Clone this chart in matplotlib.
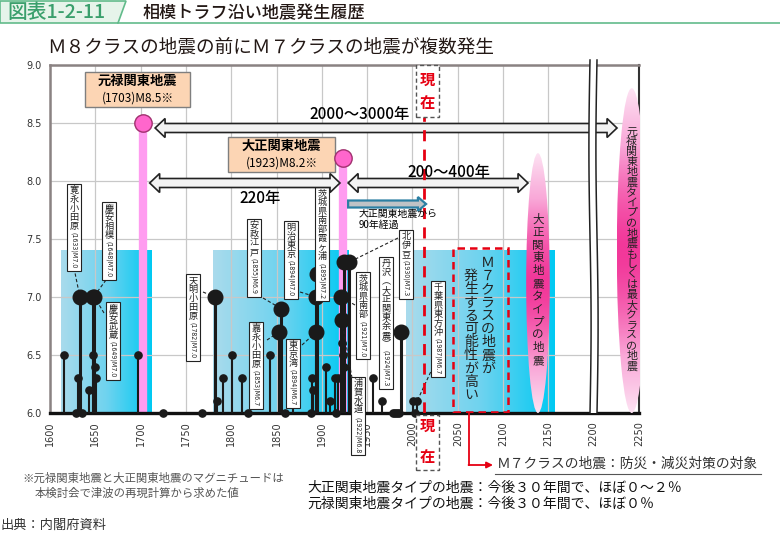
import numpy as np
import matplotlib
matplotlib.use("Agg")
import matplotlib.pyplot as plt
from matplotlib.patches import Rectangle, Ellipse, Polygon
from matplotlib.colors import LinearSegmentedColormap
from matplotlib.transforms import Bbox

plt.rcParams['font.family'] = ['Noto Sans CJK JP', 'DejaVu Sans']

# ---- data ----
small_years = [1615, 1629, 1631, 1635, 1643, 1647, 1650, 1651, 1697, 1725, 1768,
               1784, 1791, 1801, 1812, 1818, 1843, 1859, 1868, 1888, 1889, 1890,
               1905, 1909, 1915, 1916, 1918, 1922, 1923, 1924, 1938, 1956, 1966,
               1979, 1981, 1983, 1985, 2001, 2003, 2005]
small_mags = [6.5, 6.0, 6.3, 6.0, 6.2, 6.5, 6.4, 6.3, 6.5, 6.0, 6.0,
              6.1, 6.3, 6.5, 6.3, 6.0, 6.5, 6.0, 6.3, 6.0, 6.3, 6.2,
              6.4, 6.1, 6.3, 6.0, 6.3, 6.6, 6.5, 6.4, 6.1, 6.3, 6.1,
              6.0, 6.0, 6.0, 6.0, 6.1, 6.0, 6.1]

big_years = [1633, 1648, 1649, 1782, 1853, 1855, 1894, 1894, 1895, 1921, 1922, 1924, 1930, 1987]
big_mags = [7.0, 7.0, 7.0, 7.0, 6.7, 6.9, 7.0, 6.7, 7.2, 7.0, 6.8, 7.3, 7.3, 6.7]

great_years = [1703, 1923]
great_mags = [8.5, 8.2]
great_names = ['元禄関東地震', '大正関東地震']
great_texts = ['(1703)M8.5※', '(1923)M8.2※']

# labelled events: name, magnitude text, index into big_years
label_names = ['寛永小田原', '慶安相模', '慶安武蔵', '天明小田原', '安政江戸', '嘉永小田原',
               '明治東京', '東京湾', '茨城県南部霞ヶ浦', '北伊豆', '丹沢︵大正関東余震︶',
               '茨城県南部', '浦賀水道', '千葉県東方沖']
label_nums = ['(1633)M7.0', '(1648)M7.0', '(1649)M7.0', '(1782)M7.0', '(1855)M6.9', '(1853)M6.7',
              '(1894)M7.0', '(1894)M6.7', '(1895)M7.2', '(1930)M7.3', '(1924)M7.3',
              '(1921)M7.0', '(1922)M6.8', '(1987)M6.7']
label_event = [0, 1, 2, 3, 5, 4, 6, 7, 8, 12, 11, 9, 10, 13]

zone_start = [1612, 1780, 1993]
zone_end = [1712, 1930, 2157]
zone_top = 7.4

now_year = 2013
m7_window = (2045, 2105)
taisho_type = (2138.5, 6.0, 8.24, 26)    # centre year, bottom, top, width
genroku_type = (2242, 6.0, 8.8, 33)

years_ticks = list(range(1600, 2251, 50))
mag_ticks = [6.0, 6.5, 7.0, 7.5, 8.0, 8.5, 9.0]

# pixel -> data helpers for layout of annotations
def X(px):
    return 1600 + (px - 50) * 650 / 589

def Y(py):
    return 9.0 - (py - 65) * 3.0 / 348

fig = plt.figure(figsize=(7.8, 5.34), dpi=100)
ax = fig.add_axes([50 / 780, 1 - 413 / 534, 589 / 780, 348 / 534])

# blue zones
blue = LinearSegmentedColormap.from_list('blue', ['#a9dbec', '#6fd3ef', '#00c9f3'])
for x0, x1 in zip(zone_start, zone_end):
    ax.imshow(np.linspace(0, 1, 200)[None, :], extent=[x0, x1, 6.0, zone_top], cmap=blue,
              aspect='auto', zorder=0.5, interpolation='bilinear')

# grid
for x in years_ticks:
    ax.axvline(x, color='#c8c8c8', lw=0.9, zorder=0.8)
for y in mag_ticks:
    ax.axhline(y, color='#c8c8c8', lw=0.9, zorder=0.8)

# great quakes: pink bars
ax.vlines(great_years, 6.0, great_mags, colors='#ff9cf0', lw=6, zorder=2)

# lollipops
ax.vlines(small_years, 6.0, small_mags, colors='#1a1a1a', lw=1.5, zorder=3)
ax.plot(small_years, small_mags, 'o', ms=5.2, color='#1a1a1a', zorder=3.5, clip_on=False)
ax.vlines(big_years, 6.0, big_mags, colors='#1a1a1a', lw=2.2, zorder=3)
ax.plot(big_years, big_mags, 'o', ms=10.5, color='#1a1a1a', zorder=3.6, clip_on=False)
ax.plot(great_years, great_mags, 'o', ms=12.5, mfc='#ff66cc', mec='#a0306e', mew=1, zorder=7)

# pink ellipses
pink = LinearSegmentedColormap.from_list('pink', ['#fde3f3', '#f9a8d8', '#f2389a'])
for cx, bot, top, w in [taisho_type, genroku_type]:
    ell = Ellipse((cx, (bot + top) / 2), w, top - bot, transform=ax.transData)
    v = 1 - np.abs(np.linspace(-1, 1, 300)) ** 1.6
    im = ax.imshow(v[:, None], extent=[cx - w / 2, cx + w / 2, bot, top], origin='lower',
                   cmap=pink, vmin=0, vmax=1, aspect='auto', zorder=4, interpolation='bilinear')
    im.set_clip_path(ell)
    im.set_clip_box(None)

ax.text(taisho_type[0], Y(290), '\n'.join('大正関東地震タイプの地震'), ha='center', va='center',
        fontsize=8.3, linespacing=0.98, zorder=4.5, color='#222')
ax.text(genroku_type[0], Y(249), '\n'.join('元禄関東地震タイプの地震もしくは最大クラスの地震'),
        ha='center', va='center', fontsize=7.9, linespacing=1.02, zorder=4.5, color='#222', clip_on=False)

# block arrows
def block_arrow(x0, x1, y, sh, hh, hl, double=True, fc='#f3f3f3', ec='#222', lw=1.2):
    if double:
        pts = [(x0, y), (x0 + hl, y + hh / 2), (x0 + hl, y + sh / 2), (x1 - hl, y + sh / 2),
               (x1 - hl, y + hh / 2), (x1, y), (x1 - hl, y - hh / 2), (x1 - hl, y - sh / 2),
               (x0 + hl, y - sh / 2), (x0 + hl, y - hh / 2)]
    else:
        pts = [(x0, y + sh / 2), (x1 - hl, y + sh / 2), (x1 - hl, y + hh / 2), (x1, y),
               (x1 - hl, y - hh / 2), (x1 - hl, y - sh / 2), (x0, y - sh / 2)]
    ax.add_patch(Polygon(pts, closed=True, fc=fc, ec=ec, lw=lw, zorder=6, joinstyle='miter'))

sh, hh, hl = 9 * 3 / 348, 19 * 3 / 348, 11
block_arrow(great_years[0] + 13, X(617), Y(128), sh, hh, hl)
block_arrow(great_years[0] + 7, great_years[1] - 3, Y(183), sh, hh, hl)
block_arrow(great_years[1] + 6, X(528), Y(183), sh, hh, hl)
block_arrow(great_years[1] + 6, now_year + 2, Y(204), 7 * 3 / 348, 14 * 3 / 348, 9,
            double=False, fc='#bfc3c6', ec='#2b7fa3', lw=1.6)

ax.text(X(360), Y(115), '2000～3000年', ha='center', va='center', fontsize=11,
        fontweight='medium', zorder=7)
ax.text(X(260), Y(198), '220年', ha='center', va='center', fontsize=11, fontweight='medium', zorder=7)
ax.text(X(449), Y(172), '200～400年', ha='center', va='center', fontsize=11,
        fontweight='medium', zorder=7)
ax.text(X(359), Y(209), '大正関東地震から\n90年経過', ha='left', va='top', fontsize=7.1,
        linespacing=1.1, zorder=7)

# orange boxes for the great quakes
for (bx0, by0, bx1, by1), nm, tx in zip([(85, 72, 190, 107), (228, 137, 335, 172)], great_names, great_texts):
    ax.add_patch(Rectangle((X(bx0), Y(by1)), X(bx1) - X(bx0), Y(by0) - Y(by1), fc='#fcd5b4',
                           ec='#7f7f7f', lw=1, zorder=6))
    cx = X((bx0 + bx1) / 2)
    ax.text(cx, Y(by0 + 9), nm, ha='center', va='center', fontsize=9.5, fontweight='bold', zorder=7)
    ax.text(cx, Y(by0 + 26), tx, ha='center', va='center', fontsize=8.5, zorder=7)

# red "now" line and boxes
red = '#e60012'
ax.vlines(now_year, 6.0, Y(117), colors=red, lw=2, linestyles=(0, (4, 3)), zorder=6)
for (py0, py1, c1, c2) in [(65, 117, 80, 103), (415, 470, 426, 457)]:
    ax.add_patch(Rectangle((X(416), Y(py1)), X(439) - X(416), Y(py0) - Y(py1), fc='white',
                           ec='#555', lw=1, ls=(0, (3, 2)), zorder=6.5, clip_on=False))
    ax.text(X(427.5), Y(c1), '現', color=red, fontsize=11, fontweight='bold', ha='center',
            va='center', zorder=7)
    ax.text(X(427.5), Y(c2), '在', color=red, fontsize=11, fontweight='bold', ha='center',
            va='center', zorder=7)

# M7 window
ax.add_patch(Rectangle((m7_window[0], 6.01), m7_window[1] - m7_window[0], Y(248) - 6.01,
                       fc='none', ec=red, lw=1.8, ls=(0, (3, 2)), zorder=6))
ax.text(X(488), Y(256), '\n'.join('Ｍ７クラスの地震が'), ha='center', va='top', fontsize=10,
        linespacing=0.93, zorder=7, color='#222')
ax.text(X(471), Y(269), '\n'.join('発生する可能性が高い'), ha='center', va='top', fontsize=10,
        linespacing=0.93, zorder=7, color='#222')
ax.plot([X(469), X(469)], [6.0, Y(465)], color=red, lw=1.3, clip_on=False, zorder=6)
ax.annotate('', xy=(X(493), Y(465)), xytext=(X(469) - 0.5, Y(465)),
            arrowprops=dict(arrowstyle='-|>', color=red, lw=1.3, mutation_scale=9,
                            shrinkA=0, shrinkB=0), annotation_clip=False)
ax.text(X(497), Y(464), 'Ｍ７クラスの地震：防災・減災対策の対象', ha='left', va='center',
        fontsize=9.9, color='#333', style='italic', clip_on=False)
ax.plot([X(495), X(761)], [Y(474), Y(474)], color='#555', lw=0.8, clip_on=False)

# break mark at 2200
t = np.linspace(0, 1, 60)
yy = Y(413) + t * (Y(60) - Y(413))
off = 1.2 * np.sin(2 * np.pi * t)
xl = X(590) + off
xr = X(597) + off
ax.add_patch(Polygon(np.column_stack([np.r_[xl, xr[::-1]], np.r_[yy, yy[::-1]]]), closed=True,
                     fc='white', ec='none', zorder=6.8, clip_on=False))
ax.plot(xl, yy, color='#222', lw=1.1, zorder=6.9, clip_on=False)
ax.plot(xr, yy, color='#222', lw=1.1, zorder=6.9, clip_on=False)

# event labels (vertical)
label_pos = [(74, 186), (109, 204), (113, 304), (193, 276), (254, 221), (256, 324), (291, 223),
             (293, 341), (322, 189), (406, 232), (386, 259), (363, 274), (358, 379), (438, 283)]
leader_from = [(74, 268), (106, 280), (104, 313), (203, 292), (263, 298), (267, 340), (300, 292),
               (302, 345), None, (398, 238), None, (355, 305), (352, 378), (433, 367)]
label_texts = []
for nm, num, (px, py), ev, lf in zip(label_names, label_nums, label_pos, label_event, leader_from):
    t1 = ax.text(X(px), Y(py), '\n'.join(nm), ha='center', va='top', fontsize=6.6,
                 linespacing=1.0, zorder=6, clip_on=False, color='#222')
    t2 = ax.annotate(num, xy=(0.5, 0), xycoords=t1, xytext=(0, -1), textcoords='offset points',
                     rotation=-90, ha='center', va='top', fontsize=5.0, zorder=6, color='#222',
                     fontstretch='condensed', family=['Liberation Sans Narrow', 'DejaVu Sans'])
    label_texts.append((t1, t2))
    if lf is not None:
        if ev == 13:
            tx, ty = 2005, 6.1
        else:
            tx, ty = big_years[ev], big_mags[ev]
        ax.plot([X(lf[0]), tx], [Y(lf[1]), ty], color='#222', lw=0.8, ls=(0, (3, 2)), zorder=3.2)

# axes styling
ax.set_xlim(1600, 2250)
ax.set_ylim(6.0, 9.0)
ax.set_xticks(years_ticks)
ax.set_xticklabels([str(v) for v in years_ticks], rotation=90, family='DejaVu Sans')
ax.set_yticks(mag_ticks)
ax.set_yticklabels([f'{v:.1f}' for v in mag_ticks], family='DejaVu Sans')
ax.tick_params(length=0, labelsize=7, colors='#333', pad=6)
for s in ['left', 'top']:
    ax.spines[s].set_color('#8a8282')
    ax.spines[s].set_linewidth(1.8)
ax.spines['right'].set_color('#333')
ax.spines['right'].set_linewidth(1.5)
ax.spines['bottom'].set_color('#111')
ax.spines['bottom'].set_linewidth(2.4)

# header
W, H = 780, 534
hdr = Polygon([(0, 1 - 1 / H), (126 / W, 1 - 1 / H), (118 / W, 1 - 23 / H), (0, 1 - 23 / H)],
              closed=True, transform=fig.transFigure, fc='#e6f4ea', ec='#62bb8b', lw=1.2)
fig.add_artist(hdr)
fig.add_artist(plt.Line2D([118 / W, 1], [1 - 23 / H, 1 - 23 / H], transform=fig.transFigure,
                          color='#62bb8b', lw=1.2))
fig.text(7 / W, 1 - 12 / H, '図表1-2-11', color='#3a9f6c', fontsize=14.2, fontweight='medium', va='center')
fig.text(143 / W, 1 - 13 / H, '相模トラフ沿い地震発生履歴', color='#231815', fontsize=12.3,
         fontweight='medium', va='center')
fig.text(47 / W, 1 - 48 / H, 'Ｍ８クラスの地震の前にＭ７クラスの地震が複数発生', color='#231815',
         fontsize=13.4, va='center')

# footnotes
fig.text(22 / W, 1 - 478 / H, '※元禄関東地震と大正関東地震のマグニチュードは', fontsize=8.2,
         color='#555', va='center')
fig.text(35 / W, 1 - 493 / H, '本検討会で津波の再現計算から求めた値', fontsize=8.2, color='#555', va='center')
fig.text(307 / W, 1 - 488 / H, '大正関東地震タイプの地震：今後３０年間で、ほぼ０～２％', fontsize=10,
         color='#111', va='center')
fig.text(307 / W, 1 - 504 / H, '元禄関東地震タイプの地震：今後３０年間で、ほぼ０％', fontsize=10,
         color='#111', va='center')
fig.text(0, 1 - 525 / H, '出典：内閣府資料', fontsize=9.5, color='#333', va='center')

# draw once to size the label boxes around the stacked text
fig.canvas.draw()
r = fig.canvas.get_renderer()
inv = ax.transData.inverted()
for t1, t2 in label_texts:
    bb = Bbox.union([t1.get_window_extent(r), t2.get_window_extent(r)])
    (x0, y0), (x1, y1) = inv.transform([(bb.x0 - 2.5, bb.y0 - 2.5), (bb.x1 + 2.5, bb.y1 + 2)])
    ax.add_patch(Rectangle((x0, y0), x1 - x0, y1 - y0, fc='white', ec='#222', lw=0.8,
                           zorder=5.5, clip_on=False))

fig.savefig('out.png', dpi=100)
